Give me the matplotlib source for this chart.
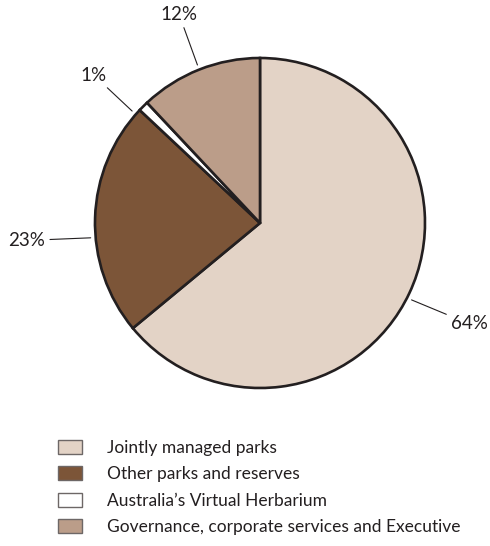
import numpy as np
import matplotlib.pyplot as plt
from matplotlib.patches import Patch

plt.rcParams['font.family'] = ['Lato', 'DejaVu Sans']

categories = ["Jointly managed parks", "Other parks and reserves",
              "Australia\u2019s Virtual Herbarium",
              "Governance, corporate services and Executive"]
shares = [64, 23, 1, 12]
labels = ["64%", "23%", "1%", "12%"]
colors = ['#E3D3C6', '#7C5538', '#FFFFFF', '#BB9D89']
ink = '#231F20'

# label placement: nudge of anchor angle (deg), text offset (points), alignment
nudges = [-1.7, 6.8, 3.8, 0]
offsets = [(28.4, -17.3), (-32.8, -1.9), (-18.2, 25.9), (-13.2, 36.4)]
aligns = ['left', 'right', 'right', 'center']

W, H = 490, 546
cx, cy, R = 260, 223, 165

fig = plt.figure(figsize=(W / 100, H / 100), dpi=100)
ax = fig.add_axes([0, 0, 1, 1])

wedges, _ = ax.pie(shares, colors=colors, startangle=90, counterclock=False,
                   radius=1, wedgeprops=dict(edgecolor=ink, linewidth=1.9))

ax.set_xlim(-cx / R, (W - cx) / R)
ax.set_ylim(-(H - cy) / R, cy / R)
ax.set_aspect('equal')
ax.axis('off')

for w, lab, nd, off, ha in zip(wedges, labels, nudges, offsets, aligns):
    ang = np.deg2rad((w.theta1 + w.theta2) / 2 + nd)
    x, y = np.cos(ang), np.sin(ang)
    ax.annotate(lab, xy=(x * 1.03, y * 1.03), xytext=off, textcoords='offset points',
                ha=ha, va='center', fontsize=13.5, color=ink,
                arrowprops=dict(arrowstyle='-', color=ink, lw=0.8,
                                shrinkA=1.5, shrinkB=0))

handles = [Patch(facecolor=c, edgecolor='#6d6766', linewidth=1.0) for c in colors]
fig.legend(handles, categories, loc='upper left', bbox_to_anchor=(0.087, 0.223),
           frameon=False, fontsize=12.55, handlelength=1.38, handleheight=0.87,
           handletextpad=1.39, labelspacing=0.59, labelcolor=ink)

fig.savefig('out.png', dpi=100)
